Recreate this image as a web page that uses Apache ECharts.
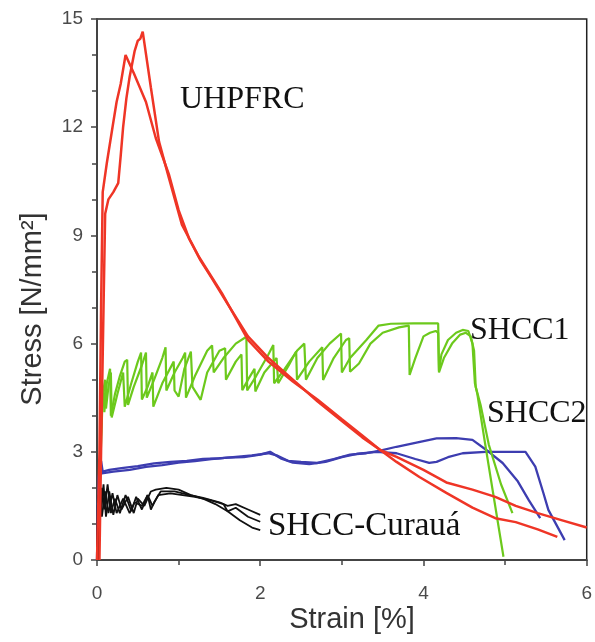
<!DOCTYPE html>
<html><head><meta charset="utf-8">
<script src="https://cdn.jsdelivr.net/npm/echarts@6/dist/echarts.min.js"></script>
<style>html,body{margin:0;padding:0;background:#fff}#c{width:595px;height:642px}</style>
</head><body><div id="c"></div>
<script>
// ---- data (strain %, stress N/mm2) ----
const xTicks = [0, 2, 4, 6];
const yTicks = [0, 3, 6, 9, 12, 15];
const seriesNames = ['UHPFRC', 'SHCC1', 'SHCC2', 'SHCC-Curauá'];

const uhpfrcA = [[0.0,0],[0.03,3],[0.05,7],[0.07,10.2],[0.12,11.0],[0.19,12.0],[0.24,12.7],[0.29,13.2],[0.35,14.0],[0.45,13.5],[0.6,12.7],[0.72,11.7],[0.88,10.7],[1.0,9.7],[1.13,8.9],[1.27,8.3],[1.41,7.8],[1.6,7.1],[1.85,6.2],[2.1,5.6],[2.4,5.0],[2.7,4.4],[3.0,3.85],[3.25,3.4],[3.47,3.05],[3.67,2.72],[3.95,2.3],[4.28,1.86],[4.6,1.45],[4.88,1.16],[5.13,1.05],[5.4,0.85],[5.64,0.64]];
const uhpfrcB = [[0.03,0],[0.05,3],[0.08,7],[0.1,9.6],[0.14,10.0],[0.2,10.2],[0.26,10.45],[0.29,11.2],[0.32,12.0],[0.36,12.8],[0.4,13.4],[0.46,14.1],[0.5,14.4],[0.53,14.45],[0.56,14.65],[0.66,13.1],[0.76,11.6],[0.88,10.6],[1.04,9.3],[1.25,8.4],[1.53,7.4],[1.85,6.1],[2.1,5.5],[2.4,4.95],[2.7,4.45],[3.0,3.9],[3.25,3.45],[3.47,3.05],[3.67,2.86],[4.0,2.5],[4.28,2.15],[4.6,1.95],[4.88,1.75],[5.13,1.5],[5.4,1.3],[5.7,1.1],[6.0,0.9]];

const shcc1A = [[0.01,0],[0.03,2.0],[0.05,3.6],[0.06,4.3],[0.08,4.8],[0.09,4.1],[0.12,4.9],[0.16,5.3],[0.17,4.0],[0.22,4.6],[0.28,5.1],[0.34,5.5],[0.37,5.55],[0.38,4.3],[0.45,4.8],[0.55,5.4],[0.6,5.75],[0.61,4.5],[0.7,5.0],[0.8,5.6],[0.84,5.9],[0.85,4.7],[0.95,5.2],[1.05,5.6],[1.08,5.75],[1.09,4.5],[1.2,5.1],[1.35,5.8],[1.41,5.95],[1.43,5.2],[1.55,5.6],[1.7,6.0],[1.83,6.19],[1.84,4.7],[1.95,5.1],[2.1,5.7],[2.16,5.96],[2.17,4.9],[2.3,5.3],[2.45,5.8],[2.54,6.0],[2.56,5.0],[2.7,5.6],[2.85,6.0],[2.99,6.28],[3.0,5.2],[3.1,5.6],[3.3,6.1],[3.45,6.5],[3.6,6.55],[3.88,6.56],[4.18,6.56],[4.19,5.25],[4.22,5.7],[4.3,6.1],[4.4,6.3],[4.48,6.38],[4.55,6.35],[4.6,6.0],[4.63,4.9],[4.66,4.6],[4.75,3.3],[4.85,1.9],[4.98,0.09]];
const shcc1B = [[0.02,0],[0.04,2.6],[0.06,3.9],[0.07,4.6],[0.1,5.0],[0.11,4.2],[0.14,4.8],[0.17,5.2],[0.18,3.95],[0.25,4.6],[0.32,5.2],[0.34,4.25],[0.42,4.9],[0.5,5.5],[0.54,5.75],[0.55,4.45],[0.62,4.8],[0.68,5.2],[0.69,4.25],[0.8,4.9],[0.94,5.5],[0.95,4.7],[1.0,4.53],[1.07,5.3],[1.15,5.78],[1.17,4.8],[1.27,4.44],[1.35,5.2],[1.5,5.8],[1.57,5.87],[1.58,5.0],[1.7,5.5],[1.77,5.7],[1.78,4.71],[1.85,5.0],[1.93,5.3],[1.94,4.67],[2.05,5.2],[2.2,5.6],[2.22,4.9],[2.35,5.4],[2.44,5.78],[2.45,5.0],[2.6,5.5],[2.76,5.9],[2.77,4.99],[2.9,5.6],[3.05,6.1],[3.09,6.15],[3.1,5.22],[3.21,5.45],[3.35,6.0],[3.5,6.3],[3.7,6.45],[3.82,6.5],[3.83,5.13],[3.9,5.6],[4.0,6.2],[4.08,6.3],[4.15,6.35],[4.18,6.3],[4.19,5.2],[4.25,5.6],[4.35,6.0],[4.45,6.25],[4.52,6.3],[4.58,6.2],[4.62,5.8],[4.64,4.8],[4.7,4.3],[4.8,3.2],[4.95,2.1],[5.09,1.3]];

const shcc2A = [[0.01,0],[0.02,1.5],[0.03,2.5],[0.05,2.75],[0.07,2.45],[0.15,2.5],[0.3,2.55],[0.5,2.6],[0.7,2.68],[0.9,2.72],[1.1,2.75],[1.3,2.8],[1.5,2.82],[1.7,2.86],[1.9,2.9],[2.1,2.96],[2.2,2.9],[2.34,2.75],[2.5,2.72],[2.7,2.69],[2.9,2.8],[3.1,2.92],[3.3,2.96],[3.47,3.03],[3.67,3.14],[3.9,3.25],[4.16,3.37],[4.4,3.38],[4.6,3.33],[4.8,3.0],[4.97,2.69],[5.15,2.2],[5.29,1.66],[5.43,1.16]];
const shcc2B = [[0.0,0],[0.01,1.5],[0.02,2.3],[0.04,2.6],[0.06,2.4],[0.2,2.45],[0.4,2.5],[0.6,2.58],[0.8,2.63],[1.0,2.7],[1.2,2.74],[1.4,2.8],[1.6,2.84],[1.8,2.85],[2.0,2.92],[2.12,3.0],[2.25,2.82],[2.4,2.7],[2.6,2.66],[2.8,2.72],[3.0,2.85],[3.2,2.95],[3.43,3.0],[3.67,2.96],[3.9,2.8],[4.07,2.69],[4.16,2.72],[4.3,2.85],[4.48,2.96],[4.76,3.0],[5.25,3.0],[5.37,2.59],[5.47,1.85],[5.53,1.39],[5.73,0.55]];

const curauaA = [[0.0,0],[0.01,1.5],[0.03,2.0],[0.05,1.3],[0.08,2.1],[0.11,1.2],[0.15,1.9],[0.2,1.25],[0.25,1.8],[0.3,1.4],[0.38,1.75],[0.45,1.3],[0.5,1.7],[0.58,1.5],[0.66,1.9],[0.72,1.95],[0.85,2.0],[1.0,1.95],[1.15,1.8],[1.3,1.7],[1.45,1.55],[1.6,1.35],[1.75,1.1],[1.9,0.9],[2.0,0.83]];
const curauaB = [[0.01,0],[0.02,1.8],[0.04,1.2],[0.06,2.0],[0.09,1.4],[0.13,2.1],[0.17,1.3],[0.22,1.7],[0.28,1.3],[0.35,1.8],[0.42,1.35],[0.48,1.75],[0.55,1.4],[0.62,1.8],[0.68,1.5],[0.75,1.8],[0.9,1.85],[1.05,1.8],[1.2,1.75],[1.4,1.65],[1.55,1.55],[1.6,1.35],[1.7,1.45],[1.85,1.2],[2.0,1.06]];
const curauaC = [[0.02,0],[0.03,1.6],[0.06,1.2],[0.1,1.9],[0.14,1.3],[0.19,1.85],[0.24,1.3],[0.32,1.7],[0.4,1.3],[0.46,1.6],[0.55,1.5],[0.62,1.8],[0.66,1.4],[0.7,1.6],[0.78,1.9],[0.95,1.9],[1.1,1.82],[1.3,1.72],[1.5,1.6],[1.6,1.5],[1.7,1.55],[1.85,1.4],[2.0,1.25]];

// ---- chart ----
const RED = '#ef3526', GREEN = '#6cc91c', BLUE = '#3d3db0', BLACK = '#111111';
const SERIF = '"Liberation Serif","Times New Roman",serif';
const SANS = '"Liberation Sans",Arial,sans-serif';

function line(data, color, w) {
  return { type: 'line', data: data, showSymbol: false, symbol: 'none',
    lineStyle: { color: color, width: w }, silent: true, z: 3 };
}

const chart = echarts.init(document.getElementById('c'), null, { renderer: 'canvas' });
chart.setOption({
  animation: false,
  backgroundColor: '#fff',
  grid: { left: 97, right: 3, top: 19, bottom: 82, show: true, borderColor: '#222', borderWidth: 1.5 },
  xAxis: {
    type: 'value', min: xTicks[0], max: xTicks[xTicks.length - 1], interval: 2,
    axisLine: { show: true, onZero: false, lineStyle: { color: '#444', width: 2 } },
    axisTick: { show: true, inside: false, length: 6, lineStyle: { color: '#444', width: 1.5 } },
    minorTick: { show: true, splitNumber: 2, length: 5, lineStyle: { color: '#444', width: 1.5 } },
    axisLabel: { color: '#4a4a4a', fontFamily: SANS, fontSize: 19, margin: 24 },
    splitLine: { show: false }
  },
  yAxis: {
    type: 'value', min: yTicks[0], max: yTicks[yTicks.length - 1], interval: 3,
    axisLine: { show: true, onZero: false, lineStyle: { color: '#444', width: 2 } },
    axisTick: { show: true, inside: false, length: 6, lineStyle: { color: '#444', width: 1.5 } },
    minorTick: { show: true, splitNumber: 3, length: 5, lineStyle: { color: '#444', width: 1.5 } },
    axisLabel: { color: '#4a4a4a', fontFamily: SANS, fontSize: 19, margin: 14 },
    splitLine: { show: false }
  },
  series: [
    line(shcc2A, BLUE, 2.3), line(shcc2B, BLUE, 2.3),
    line(shcc1A, GREEN, 2.2), line(shcc1B, GREEN, 2.2),
    line(curauaA, BLACK, 1.8), line(curauaB, BLACK, 1.8), line(curauaC, BLACK, 1.8),
    line(uhpfrcA, RED, 2.5), line(uhpfrcB, RED, 2.5)
  ],
  graphic: [
    { type: 'text', x: 180, y: 100, style: { text: seriesNames[0], font: '32px ' + SERIF, fill: '#111', textVerticalAlign: 'middle' } },
    { type: 'text', x: 470, y: 331, style: { text: seriesNames[1], font: '32px ' + SERIF, fill: '#111', textVerticalAlign: 'middle' } },
    { type: 'text', x: 487, y: 414, style: { text: seriesNames[2], font: '32px ' + SERIF, fill: '#111', textVerticalAlign: 'middle' } },
    { type: 'text', x: 268, y: 526, style: { text: seriesNames[3], font: '33px ' + SERIF, fill: '#111', textVerticalAlign: 'middle' } },
    { type: 'text', x: 33, y: 309, rotation: Math.PI / 2, style: { text: 'Stress [N/mm²]', font: '29px ' + SANS, fill: '#333', textAlign: 'center', textVerticalAlign: 'middle' } },
    { type: 'text', x: 352, y: 620, style: { text: 'Strain [%]', font: '29px ' + SANS, fill: '#333', textAlign: 'center', textVerticalAlign: 'middle' } }
  ]
});
</script></body></html>
